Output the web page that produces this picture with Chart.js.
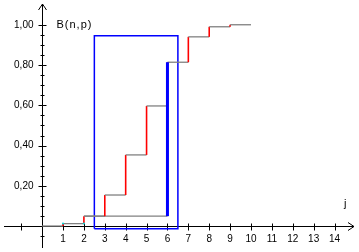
<!DOCTYPE html>
<html>
<head>
<meta charset="utf-8">
<script src="https://cdn.jsdelivr.net/npm/chart.js@4"></script>
<style>
  body { margin: 0; background: #fff; }
  #wrap { width: 359px; height: 252px; }
</style>
</head>
<body>
<div id="wrap"><canvas id="chart" width="359" height="252"></canvas></div>
<script>
// valeurs
const jValues = [0, 1, 2, 3, 4, 5, 6, 7, 8, 9];
const cdfValues = [0.001, 0.013, 0.05, 0.155, 0.354, 0.597, 0.814, 0.94, 0.99, 1.0];
const xTickLabels = ["1", "2", "3", "4", "5", "6", "7", "8", "9", "10", "11", "12", "13", "14"];
const yTickValues = [0.2, 0.4, 0.6, 0.8, 1.0];
const yTickLabels = ["0,20", "0,40", "0,60", "0,80", "1,00"];
const rangeLow = 3;
const rangeHigh = 6;
const boxX = [2.5, 6.5];
const boxY = [-0.012, 0.945];

window.onload = function () {
	drawChart();
};

function buildSteps() {
	const pts = [];
	jValues.forEach((j, i) => {
		pts.push({ x: j, y: cdfValues[i] });
		pts.push({ x: j + 1, y: cdfValues[i] });
	});
	return pts;
}

const axesPlugin = {
	id: "axes",
	beforeDatasetsDraw(chart) {
		const ctx = chart.ctx;
		const xs = chart.scales.x;
		const ys = chart.scales.y;
		const x0 = Math.round(xs.getPixelForValue(0)) + 0.5;
		const y0 = Math.round(ys.getPixelForValue(0)) + 0.5;
		const area = chart.chartArea;
		ctx.save();
		ctx.strokeStyle = "#000";
		ctx.lineWidth = 1;
		ctx.beginPath();
		ctx.moveTo(area.left, y0);
		ctx.lineTo(area.right - 1, y0);
		ctx.moveTo(x0, area.bottom);
		ctx.lineTo(x0, area.top);
		// fleches
		ctx.moveTo(area.right - 7, y0 - 4);
		ctx.lineTo(area.right - 1, y0);
		ctx.lineTo(area.right - 7, y0 + 4);
		ctx.moveTo(x0 - 4, area.top + 6);
		ctx.lineTo(x0, area.top);
		ctx.lineTo(x0 + 4, area.top + 6);
		// graduations x
		for (let v = -1; v <= 14; v++) {
			if (v === 0) continue;
			const px = Math.round(xs.getPixelForValue(v)) + 0.5;
			ctx.moveTo(px, y0 - 3);
			ctx.lineTo(px, y0 + 4);
		}
		// graduations y
		for (let k = -1; k <= 20; k++) {
			if (k === 0) continue;
			const py = Math.round(ys.getPixelForValue(k * 0.05)) + 0.5;
			const len = k % 4 === 0 ? 4 : 2;
			ctx.moveTo(x0 - len, py);
			ctx.lineTo(x0 + len, py);
		}
		ctx.stroke();

		ctx.fillStyle = "#000";
		ctx.font = "10px 'Liberation Sans'";
		ctx.textBaseline = "middle";
		ctx.textAlign = "center";
		xTickLabels.forEach((lab) => {
			ctx.fillText(lab, xs.getPixelForValue(Number(lab)), y0 + 13);
		});
		ctx.textAlign = "right";
		yTickValues.forEach((v, i) => {
			ctx.fillText(yTickLabels[i], x0 - 9, ys.getPixelForValue(v));
		});
		ctx.font = "11px 'Liberation Sans'";
		ctx.letterSpacing = "1px";
		ctx.textAlign = "left";
		ctx.fillText("B(n,p)", x0 + 14, ys.getPixelForValue(1.0));
		ctx.letterSpacing = "0px";
		ctx.fillText("j", xs.getPixelForValue(14.45), ys.getPixelForValue(0.11));
		ctx.restore();
	},
};

function drawChart() {
	const fLow = cdfValues[jValues.indexOf(rangeLow - 1)];
	const fHigh = cdfValues[jValues.indexOf(rangeHigh)];
	const ctx = document.getElementById("chart").getContext("2d");
	new Chart(ctx, {
		type: "line",
		data: {
			datasets: [
				{
					label: "P",
					data: [{ x: rangeHigh, y: fLow }, { x: rangeHigh, y: fHigh }],
					borderColor: "#0000ff",
					borderWidth: 3,
					borderCapStyle: "butt",
					pointRadius: 0,
					order: 0,
				},
				{
					label: "points",
					data: [{ x: 1, y: cdfValues[1] }, { x: 2, y: cdfValues[1] }],
					showLine: false,
					pointRadius: 1,
					pointBorderWidth: 0,
					pointBackgroundColor: "#00d8d8",
					order: 1,
				},
				{
					label: "F",
					data: buildSteps(),
					borderColor: "#808080",
					borderWidth: 1.3,
					pointRadius: 0,
					segment: {
						borderColor: (c) => (c.p0.parsed.x === c.p1.parsed.x ? "#ff0000" : "#808080"),
						borderWidth: (c) => (c.p0.parsed.x === c.p1.parsed.x ? 1.6 : 1.3),
					},
					order: 2,
				},
				{
					label: "ext",
					data: [{ x: rangeLow - 1, y: fLow }, { x: rangeHigh, y: fLow }],
					borderColor: "#808080",
					borderWidth: 1.3,
					pointRadius: 0,
					order: 3,
				},
				{
					label: "box",
					data: [
						{ x: boxX[0], y: boxY[0] },
						{ x: boxX[0], y: boxY[1] },
						{ x: boxX[1], y: boxY[1] },
						{ x: boxX[1], y: boxY[0] },
						{ x: boxX[0], y: boxY[0] },
					],
					borderColor: "#0000ff",
					borderWidth: 1.5,
					pointRadius: 0,
					order: 4,
				},
			],
		},
		options: {
			responsive: false,
			animation: false,
			layout: { padding: 0 },
			plugins: { legend: { display: false }, tooltip: { enabled: false } },
			scales: {
				x: { type: "linear", min: -1.826, max: 14.98, display: false },
				y: { type: "linear", min: -0.108, max: 1.103, display: false },
			},
		},
		plugins: [axesPlugin],
	});
}
</script>
</body>
</html>
